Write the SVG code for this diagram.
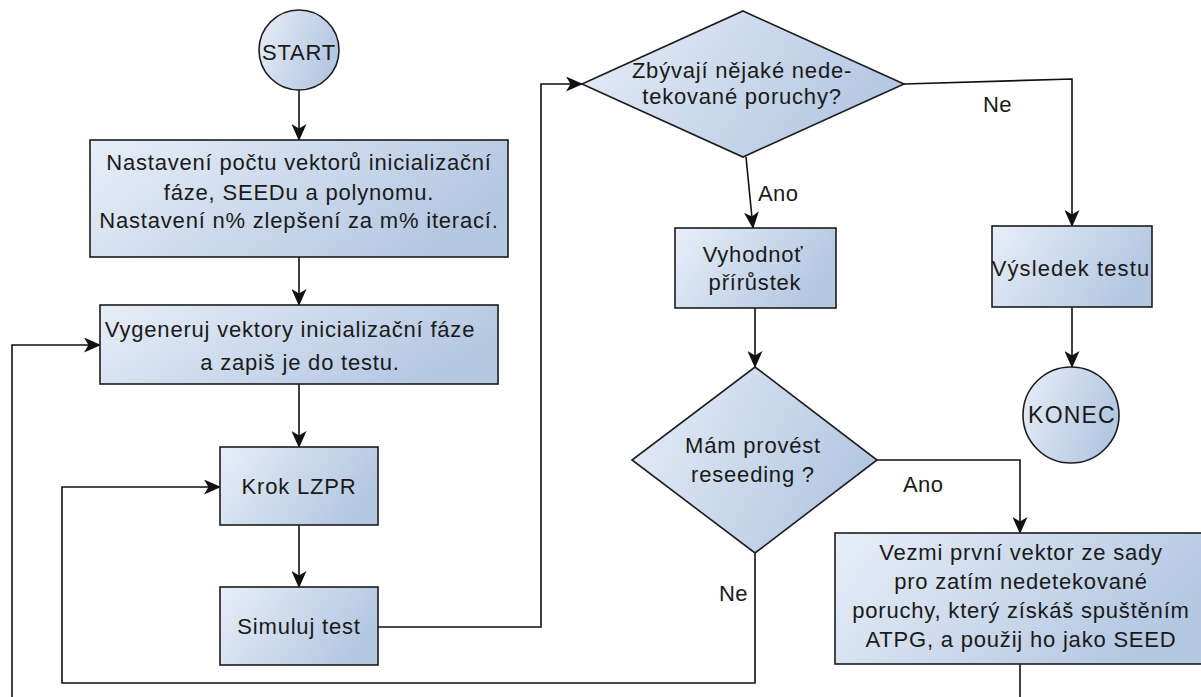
<svg xmlns="http://www.w3.org/2000/svg" width="1201" height="697" viewBox="0 0 1201 697">
  <style>
    .shape { fill: url(#fillGrad); stroke: #1c1c1c; stroke-width: 1.6; }
    .edge { fill: none; stroke: #111; stroke-width: 1.6; }
    .arrow { marker-end: url(#arrowHead); }
    text { font-family: "Liberation Sans", Arial, sans-serif; font-size: 22px; fill: #1a1a1a; letter-spacing: 0.8px; }
    .c { text-anchor: middle; }
    .lbl { letter-spacing: 0.4px; }
  </style>
  <defs>
    <linearGradient id="fillGrad" x1="0" y1="0" x2="1" y2="0.35">
      <stop offset="0" stop-color="#e7eef8"/>
      <stop offset="1" stop-color="#b5c8e2"/>
    </linearGradient>
    <marker id="arrowHead" markerUnits="userSpaceOnUse" markerWidth="17" markerHeight="15" refX="16" refY="7.5" orient="auto">
      <path d="M0,0 L17,7.5 L0,15 L4.5,7.5 z" fill="#111"/>
    </marker>
  </defs>

  <!-- connectors -->
  <g id="connectors">
    <path class="edge arrow" d="M299,90 L299,140"/>
    <path class="edge arrow" d="M299,257 L299,305"/>
    <path class="edge arrow" d="M299,384 L299,447"/>
    <path class="edge arrow" d="M299,525 L299,587"/>
    <path class="edge arrow" d="M378,627 L541,627 L541,84 L582,84"/>
    <path class="edge arrow" d="M746,157 L753,228"/>
    <path class="edge arrow" d="M904,84 L1072,79 L1072,226"/>
    <path class="edge arrow" d="M1072,307 L1072,367"/>
    <path class="edge arrow" d="M755,308 L755,367"/>
    <path class="edge arrow" d="M877,460 L1020,460 L1020,533"/>
    <path class="edge arrow" d="M755,553 L755,683 L62,683 L62,487 L220,487"/>
    <path class="edge arrow" d="M1020,664 L1020,715 L12,715 L12,345 L100,345"/>
    <text class="lbl" x="758" y="201">Ano</text>
    <text class="lbl" x="983" y="112">Ne</text>
    <text class="lbl" x="903" y="492">Ano</text>
    <text class="lbl" x="719" y="601">Ne</text>
  </g>

  <g id="start">
    <circle class="shape" cx="299" cy="50" r="40"/>
    <text class="c" x="299" y="60">START</text>
  </g>

  <g id="setup">
    <rect class="shape" x="90" y="140" width="418" height="117"/>
    <text class="c" x="299" y="170">Nastavení počtu vektorů inicializační</text>
    <text class="c" x="299" y="200">fáze, SEEDu a polynomu.</text>
    <text class="c" x="299" y="228">Nastavení n% zlepšení za m% iterací.</text>
  </g>

  <g id="generate">
    <rect class="shape" x="100" y="305" width="398" height="79"/>
    <text class="c" x="290" y="337">Vygeneruj vektory inicializační fáze</text>
    <text class="c" x="300" y="370">a zapiš je do testu.</text>
  </g>

  <g id="step">
    <rect class="shape" x="220" y="447" width="158" height="78"/>
    <text class="c" x="299" y="494">Krok LZPR</text>
  </g>

  <g id="simulate">
    <rect class="shape" x="220" y="587" width="158" height="78"/>
    <text class="c" x="299" y="634">Simuluj test</text>
  </g>

  <g id="remaining">
    <polygon class="shape" points="743,11 904,84 743,157 582,84"/>
    <text class="c" x="742" y="78">Zbývají nějaké nede-</text>
    <text class="c" x="742" y="104">tekované poruchy?</text>
  </g>

  <g id="evaluate">
    <rect class="shape" x="675" y="228" width="161" height="80"/>
    <text class="c" x="753" y="262">Vyhodnoť</text>
    <text class="c" x="755" y="290">přírůstek</text>
  </g>

  <g id="reseed">
    <polygon class="shape" points="755,367 877,460 755,553 632,460"/>
    <text class="c" x="753" y="453">Mám provést</text>
    <text class="c" x="753" y="482">reseeding ?</text>
  </g>

  <g id="result">
    <rect class="shape" x="992" y="226" width="160" height="81"/>
    <text class="c" x="1071" y="276" style="letter-spacing:1.1px">Výsledek testu</text>
  </g>

  <g id="end">
    <circle class="shape" cx="1071" cy="415" r="48"/>
    <text class="c" x="1072" y="423" style="font-size:23px;letter-spacing:1.2px">KONEC</text>
  </g>

  <g id="newSeed">
    <rect class="shape" x="835" y="533" width="372" height="131"/>
    <text class="c" x="1021" y="560">Vezmi první vektor ze sady</text>
    <text class="c" x="1021" y="589">pro zatím nedetekované</text>
    <text class="c" x="1021" y="618">poruchy, který získáš spuštěním</text>
    <text class="c" x="1021" y="647">ATPG, a použij ho jako SEED</text>
  </g>
</svg>
